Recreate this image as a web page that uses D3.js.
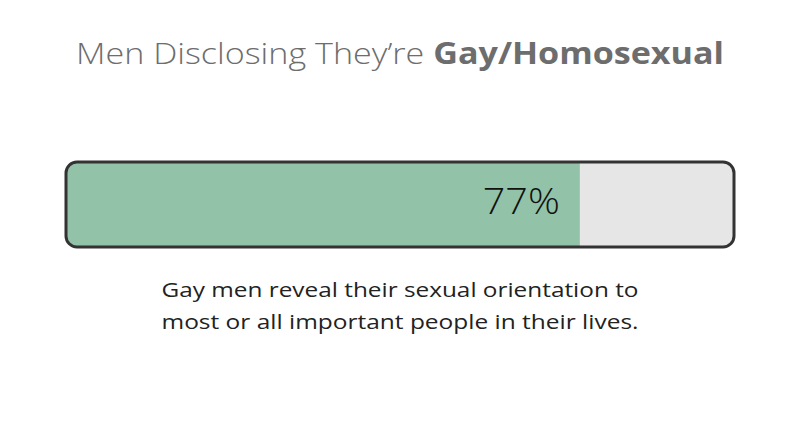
<!DOCTYPE html>
<html><head><meta charset="utf-8">
<script src="https://cdn.jsdelivr.net/npm/d3@7"></script>
<style>body{margin:0;background:#fff}svg{display:block}</style>
</head><body>
<script>
const categories = ["Gay/Homosexual"];
const values = [77];
const titlePrefix = "Men Disclosing They’re ";
const captionLines = ["Gay men reveal their sexual orientation to", "most or all important people in their lives."];

const W = 800, H = 440;
const svg = d3.select("body").append("svg").attr("width", W).attr("height", H);
const FONT = "'Open Sans', 'DejaVu Sans', sans-serif";

const x0 = 67, x1 = 733, y0 = 163, y1 = 246;
const x = d3.scaleLinear().domain([0, 100]).range([x0, x1]);

svg.append("text").attr("x", 400).attr("y", 64).attr("text-anchor", "middle")
  .attr("font-family", FONT).attr("font-size", 29.5).attr("fill", "#6d6d6d")
  .attr("textLength", 648).attr("lengthAdjust", "spacingAndGlyphs")
  .call(t => { t.append("tspan").attr("font-weight", 300).text(titlePrefix);
               t.append("tspan").attr("font-weight", 700).text(categories[0]); });

const clipId = "barclip";
svg.append("clipPath").attr("id", clipId).append("rect")
  .attr("x", x0).attr("y", y0).attr("width", x1 - x0).attr("height", y1 - y0).attr("rx", 10);

const g = svg.append("g").attr("clip-path", `url(#${clipId})`);
g.append("rect").attr("x", x0).attr("y", y0).attr("width", x1 - x0).attr("height", y1 - y0).attr("fill", "#e6e6e6");
g.selectAll("rect.val").data(values).enter().append("rect").attr("class", "val")
  .attr("x", x(0)).attr("y", y0).attr("width", d => x(d) - x(0)).attr("height", y1 - y0).attr("fill", "#92c3a9");

svg.append("rect").attr("x", x0 - 1).attr("y", y0 - 1).attr("width", x1 - x0 + 2).attr("height", y1 - y0 + 2)
  .attr("rx", 11).attr("fill", "none").attr("stroke", "#333").attr("stroke-width", 3);

svg.selectAll("text.val").data(values).enter().append("text").attr("class", "val")
  .attr("x", d => x(d) - 20).attr("y", 214).attr("text-anchor", "end")
  .attr("font-family", FONT).attr("font-size", 36).attr("font-weight", 300).attr("fill", "#111")
  .attr("textLength", 77).attr("lengthAdjust", "spacingAndGlyphs")
  .text(d => d + "%");

svg.selectAll("text.cap").data(captionLines).enter().append("text").attr("class", "cap")
  .attr("x", 400).attr("y", (d, i) => 297 + i * 32).attr("text-anchor", "middle")
  .attr("font-family", FONT).attr("font-size", 20.5).attr("fill", "#222")
  .attr("textLength", 477).attr("lengthAdjust", "spacingAndGlyphs")
  .text(d => d);
</script>
</body></html>
